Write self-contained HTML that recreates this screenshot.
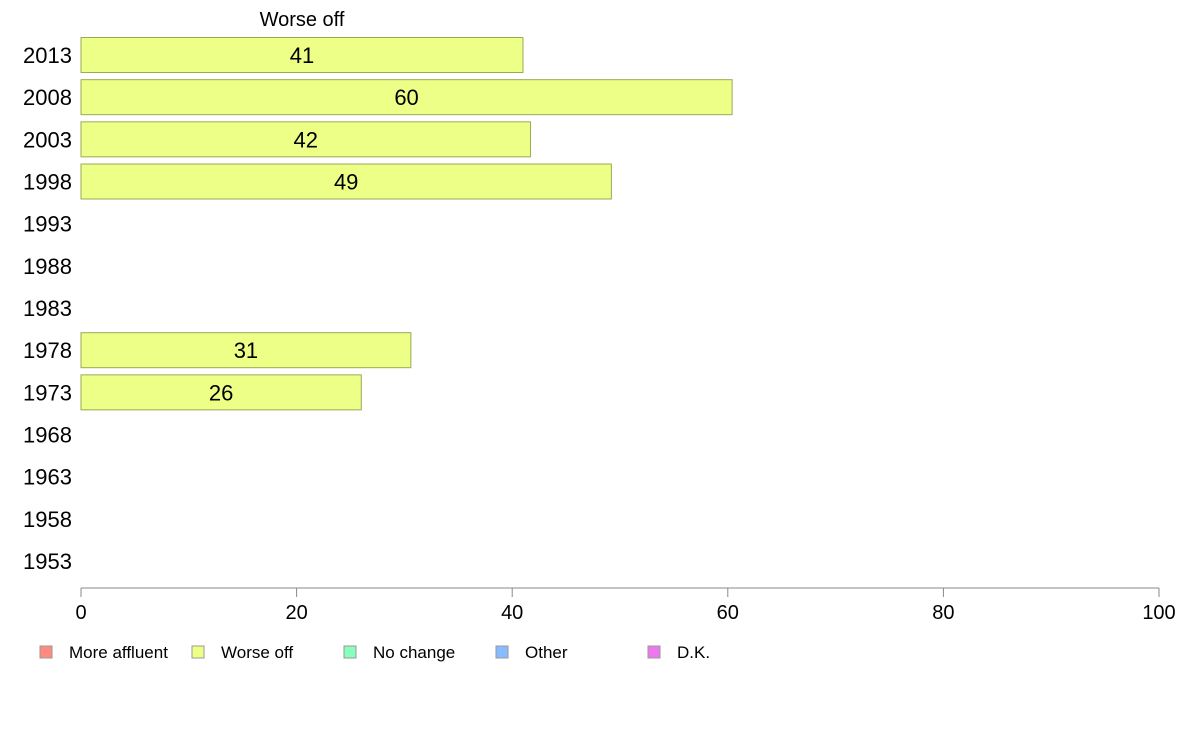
<!DOCTYPE html>
<html><head><meta charset="utf-8"><style>
body{margin:0;background:#fff;font-family:"Liberation Sans",Arial,sans-serif}
svg text{font-family:"Liberation Sans",Arial,sans-serif}
</style></head><body>
<svg id="chart" width="1188" height="736" xmlns="http://www.w3.org/2000/svg">
<text x="302" y="26" font-size="20" text-anchor="middle">Worse off</text>
<g id="bars"></g><g id="yaxis"></g><g id="xaxis"></g><g id="legend"></g>
</svg>
<script>
const years = ["2013","2008","2003","1998","1993","1988","1983","1978","1973","1968","1963","1958","1953"];
const worseOff = [41,60.4,41.7,49.2,null,null,null,30.6,26,null,null,null,null];
const labels = ["41","60","42","49","","","","31","26","","","",""];
const xTicks = [0,20,40,60,80,100];
const legendNames = ["More affluent","Worse off","No change","Other","D.K."];
const legendColors = ["#ff8a80","#eeff88","#88ffbb","#88bbff","#ee77ee"];
const NS="http://www.w3.org/2000/svg";
const x0=81,x1=1159,yTop=55,yStep=42.17,bh=35;
const xs=v=>x0+(x1-x0)*v/100;
const ys=i=>yTop+i*yStep;
function mk(t,a,p){const e=document.createElementNS(NS,t);for(const k in a)e.setAttribute(k,a[k]);p.appendChild(e);return e;}
const gb=document.getElementById('bars'),gy=document.getElementById('yaxis'),gx=document.getElementById('xaxis'),gl=document.getElementById('legend');
years.forEach((y,i)=>{
  const t=mk('text',{x:72,y:ys(i)+8,'font-size':22,'text-anchor':'end'},gy);t.textContent=y;
  
  
  const v=worseOff[i];
  if(v!=null){
    const r=mk('rect',{x:x0,y:ys(i)-bh/2,width:xs(v)-x0,height:bh,fill:'#eeff88',stroke:'#99aa55','stroke-width':1},gb);
    
    
    const l=mk('text',{x:(x0+xs(v))/2,y:ys(i)+8,'font-size':22,'text-anchor':'middle'},gb);l.textContent=labels[i];
    
    
  }
});
const ax=mk('line',{x1:x0,x2:x1,y1:588,y2:588,stroke:'#888'},gx);


xTicks.forEach(v=>{
  const tk=mk('line',{x1:xs(v),x2:xs(v),y1:588,y2:597,stroke:'#888'},gx);
  
  
  const t=mk('text',{x:xs(v),y:619,'font-size':20,'text-anchor':'middle'},gx);t.textContent=v;
  
  
});
legendNames.forEach((n,i)=>{
  const bx=40+i*152;
  const r=mk('rect',{x:bx,y:646,width:12,height:12,fill:legendColors[i],stroke:'#999'},gl);
  
  
  const t=mk('text',{x:bx+29,y:658,'font-size':17},gl);t.textContent=n;
  
  
});
</script>
</body></html>
